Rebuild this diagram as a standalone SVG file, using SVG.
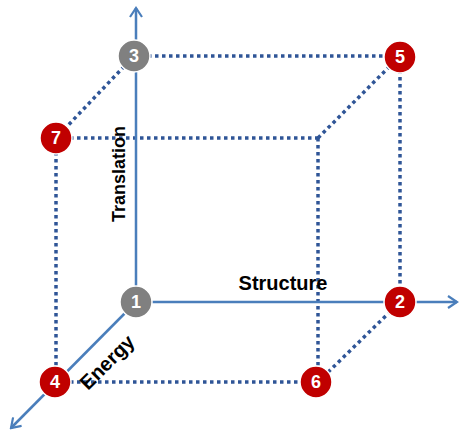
<svg xmlns="http://www.w3.org/2000/svg" width="459" height="431" viewBox="0 0 459 431">
<style>
.axis{stroke:#4a7ebb;stroke-width:2.5;fill:none}
.dot{stroke:#2f5597;stroke-width:3.5;stroke-dasharray:3.5 3.5;fill:none}
.red{fill:#c00000;stroke:#ffffff;stroke-width:1.5}
.grey{fill:#808080;stroke:#ffffff;stroke-width:1.5}
.num{font-family:"Liberation Sans",Arial,sans-serif;font-weight:bold;font-size:18px;fill:#ffffff;text-anchor:middle}
.lbl{font-family:"Liberation Sans",Arial,sans-serif;font-weight:bold;fill:#000000;text-anchor:middle}
</style>
<defs>
<marker id="arr" viewBox="0 0 12 14" refX="10" refY="7" markerWidth="12" markerHeight="14" markerUnits="userSpaceOnUse" orient="auto">
<path d="M1,1 L10,7 L1,13" fill="none" stroke="#4a7ebb" stroke-width="2.2"/>
</marker>
</defs>
<g id="connectors">
<line class="dot" x1="134" y1="56" x2="400" y2="56"/>
<line class="dot" x1="134" y1="56" x2="56" y2="138"/>
<line class="dot" x1="56" y1="138" x2="318" y2="138"/>
<line class="dot" x1="318" y1="138" x2="400" y2="56"/>
<line class="dot" x1="318" y1="138" x2="318" y2="382"/>
<line class="dot" x1="56" y1="138" x2="56" y2="382"/>
<line class="dot" x1="56" y1="382" x2="318" y2="382"/>
<line class="dot" x1="318" y1="382" x2="400" y2="302"/>
<line class="dot" x1="400" y1="56" x2="400" y2="302"/>
<line class="axis" x1="136" y1="302" x2="136" y2="8" marker-end="url(#arr)"/>
<line class="axis" x1="136" y1="302" x2="457" y2="302" marker-end="url(#arr)"/>
<line class="axis" x1="136" y1="302" x2="11" y2="428" marker-end="url(#arr)"/>
</g>
<text class="lbl" font-size="18" transform="translate(125,174) rotate(-90)">Translation</text>
<text class="lbl" font-size="20" x="283" y="290">Structure</text>
<text class="lbl" font-size="20" transform="translate(112,367) rotate(-45)">Energy</text>
<g id="n1"><circle class="grey" cx="136" cy="302" r="16"/><text class="num" x="136" y="308">1</text></g>
<g id="n2"><circle class="red" cx="400" cy="302" r="16"/><text class="num" x="400" y="308">2</text></g>
<g id="n3"><circle class="grey" cx="134" cy="56" r="16"/><text class="num" x="134" y="62">3</text></g>
<g id="n4"><circle class="red" cx="55" cy="382" r="16"/><text class="num" x="55" y="388">4</text></g>
<g id="n5"><circle class="red" cx="400" cy="57" r="16"/><text class="num" x="400" y="63">5</text></g>
<g id="n6"><circle class="red" cx="316" cy="382" r="16"/><text class="num" x="316" y="388">6</text></g>
<g id="n7"><circle class="red" cx="56" cy="138" r="16"/><text class="num" x="56" y="144">7</text></g>
</svg>
